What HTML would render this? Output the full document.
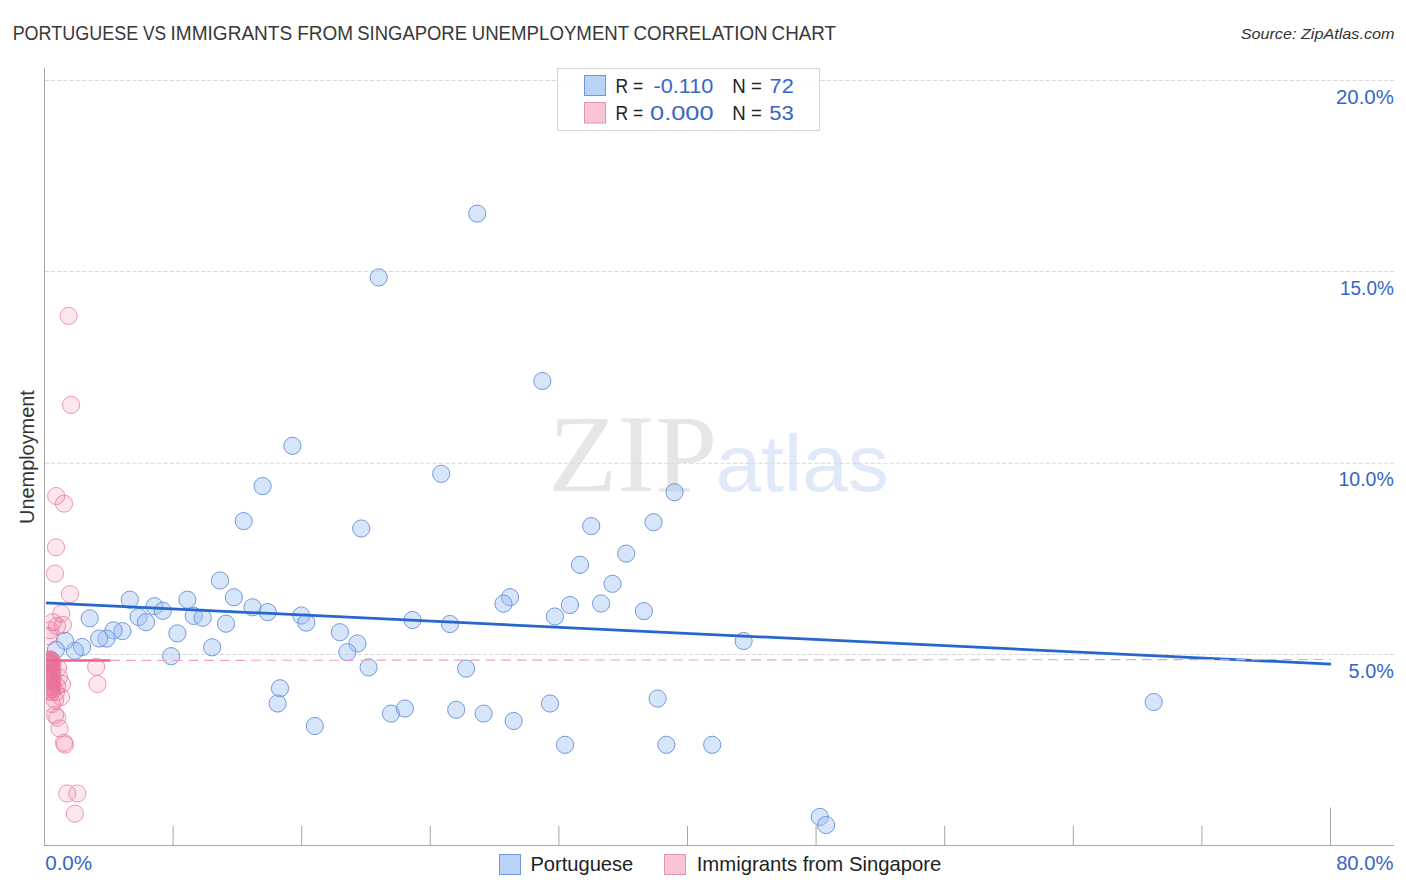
<!DOCTYPE html>
<html><head><meta charset="utf-8"><title>Portuguese vs Immigrants from Singapore Unemployment Correlation Chart</title>
<style>
html,body{margin:0;padding:0;background:#fff;}
body{width:1406px;height:892px;overflow:hidden;}
svg{display:block;}
text{font-family:"Liberation Sans",Arial,sans-serif;}
.grid{stroke:#d9d9d9;stroke-width:1;stroke-dasharray:4.2 2.057;}
.axis{stroke:#a6a6a6;stroke-width:1;}
.ax{fill:#3566c6;font-size:20px;}
.b{fill:#9abdf2;fill-opacity:0.4;stroke:#7299dc;stroke-width:1;}
.p{fill:#ec6898;fill-opacity:0.16;stroke:#e8779f;stroke-width:1.0;stroke-opacity:0.75;}
</style></head>
<body>
<svg width="1406" height="892" viewBox="0 0 1406 892">
<defs><clipPath id="plot"><rect x="46" y="60" width="1360" height="785"/></clipPath></defs>
<text y="39.8" font-size="19.84" fill="#383838"><tspan x="12.63" textLength="125.55" lengthAdjust="spacingAndGlyphs">PORTUGUESE</tspan> <tspan x="143.03" textLength="23.06" lengthAdjust="spacingAndGlyphs">VS</tspan> <tspan x="170.55" textLength="121.62" lengthAdjust="spacingAndGlyphs">IMMIGRANTS</tspan> <tspan x="297.24" textLength="55.91" lengthAdjust="spacingAndGlyphs">FROM</tspan> <tspan x="357.27" textLength="109.72" lengthAdjust="spacingAndGlyphs">SINGAPORE</tspan> <tspan x="471.67" textLength="157.25" lengthAdjust="spacingAndGlyphs">UNEMPLOYMENT</tspan> <tspan x="633.54" textLength="133.97" lengthAdjust="spacingAndGlyphs">CORRELATION</tspan> <tspan x="771.54" textLength="64.5" lengthAdjust="spacingAndGlyphs">CHART</tspan></text>
<text x="1240.65" y="39" font-size="15.47" fill="#333" font-style="italic" textLength="153.91" lengthAdjust="spacingAndGlyphs">Source: ZipAtlas.com</text>
<text transform="translate(33.9,523.9) rotate(-90)" font-size="20.06" fill="#333" textLength="133.7" lengthAdjust="spacingAndGlyphs">Unemployment</text>
<!-- watermark -->
<text x="548.6" y="491" font-size="109.47" fill="#e6e6e6" textLength="168.7" lengthAdjust="spacingAndGlyphs" style="font-family:'Liberation Serif',serif">ZIP</text>
<text x="715.76" y="491" font-size="79.59" fill="#e0e9f7" textLength="172.81" lengthAdjust="spacingAndGlyphs">atlas</text>
<line class="grid" x1="44.68" y1="80.5" x2="1394" y2="80.5"/>
<line class="grid" x1="44.68" y1="271.5" x2="1394" y2="271.5"/>
<line class="grid" x1="44.68" y1="463.3" x2="1394" y2="463.3"/>
<line class="grid" x1="44.68" y1="654.5" x2="1394" y2="654.5"/>
<line class="axis" x1="44.5" y1="67.6" x2="44.5" y2="846"/>
<line class="axis" x1="44" y1="845.5" x2="1394" y2="845.5"/>
<line class="axis" x1="173.1" y1="826" x2="173.1" y2="845"/>
<line class="axis" x1="301.7" y1="826" x2="301.7" y2="845"/>
<line class="axis" x1="430.3" y1="826" x2="430.3" y2="845"/>
<line class="axis" x1="558.9" y1="826" x2="558.9" y2="845"/>
<line class="axis" x1="687.5" y1="826" x2="687.5" y2="845"/>
<line class="axis" x1="816.1" y1="826" x2="816.1" y2="845"/>
<line class="axis" x1="944.7" y1="826" x2="944.7" y2="845"/>
<line class="axis" x1="1073.3" y1="826" x2="1073.3" y2="845"/>
<line class="axis" x1="1201.9" y1="826" x2="1201.9" y2="845"/>
<line class="axis" x1="1330.5" y1="807.5" x2="1330.5" y2="845"/>
<text class="ax" x="1335.98" y="104.0" textLength="57.84" lengthAdjust="spacingAndGlyphs">20.0%</text>
<text class="ax" x="1340.06" y="295.0" textLength="53.71" lengthAdjust="spacingAndGlyphs">15.0%</text>
<text class="ax" x="1338.52" y="486.0" textLength="55.27" lengthAdjust="spacingAndGlyphs">10.0%</text>
<text class="ax" x="1348.61" y="677.8" textLength="45.19" lengthAdjust="spacingAndGlyphs">5.0%</text>
<text class="ax" x="45.2" y="869.8" textLength="46.93" lengthAdjust="spacingAndGlyphs">0.0%</text>
<text class="ax" x="1336.13" y="869.7" textLength="57.28" lengthAdjust="spacingAndGlyphs">80.0%</text>
<g clip-path="url(#plot)">
<circle class="b" cx="292.4" cy="445.8" r="8.6"/>
<circle class="b" cx="262.6" cy="486.1" r="8.6"/>
<circle class="b" cx="243.7" cy="521.1" r="8.6"/>
<circle class="b" cx="361.2" cy="528.5" r="8.6"/>
<circle class="b" cx="220.0" cy="580.5" r="8.6"/>
<circle class="b" cx="129.8" cy="599.7" r="8.6"/>
<circle class="b" cx="187.4" cy="599.7" r="8.6"/>
<circle class="b" cx="233.9" cy="597.3" r="8.6"/>
<circle class="b" cx="154.5" cy="606.2" r="8.6"/>
<circle class="b" cx="162.8" cy="610.8" r="8.6"/>
<circle class="b" cx="252.5" cy="607.3" r="8.6"/>
<circle class="b" cx="267.7" cy="612.1" r="8.6"/>
<circle class="b" cx="301.3" cy="615.5" r="8.6"/>
<circle class="b" cx="306.3" cy="622.6" r="8.6"/>
<circle class="b" cx="138.6" cy="617.0" r="8.6"/>
<circle class="b" cx="146.0" cy="622.2" r="8.6"/>
<circle class="b" cx="193.7" cy="615.9" r="8.6"/>
<circle class="b" cx="202.7" cy="617.7" r="8.6"/>
<circle class="b" cx="226.0" cy="623.7" r="8.6"/>
<circle class="b" cx="122.4" cy="631.1" r="8.6"/>
<circle class="b" cx="113.5" cy="630.4" r="8.6"/>
<circle class="b" cx="106.5" cy="638.6" r="8.6"/>
<circle class="b" cx="99.2" cy="638.5" r="8.6"/>
<circle class="b" cx="177.4" cy="633.4" r="8.6"/>
<circle class="b" cx="212.1" cy="647.3" r="8.6"/>
<circle class="b" cx="171.1" cy="656.2" r="8.6"/>
<circle class="b" cx="339.9" cy="632.2" r="8.6"/>
<circle class="b" cx="357.4" cy="643.5" r="8.6"/>
<circle class="b" cx="347.3" cy="652.2" r="8.6"/>
<circle class="b" cx="368.6" cy="667.4" r="8.6"/>
<circle class="b" cx="280.0" cy="688.3" r="8.6"/>
<circle class="b" cx="277.6" cy="703.5" r="8.6"/>
<circle class="b" cx="314.8" cy="726.0" r="8.6"/>
<circle class="b" cx="391.0" cy="713.6" r="8.6"/>
<circle class="b" cx="441.2" cy="473.8" r="8.6"/>
<circle class="b" cx="674.5" cy="492.2" r="8.6"/>
<circle class="b" cx="591.2" cy="526.1" r="8.6"/>
<circle class="b" cx="653.5" cy="522.2" r="8.6"/>
<circle class="b" cx="626.2" cy="553.6" r="8.6"/>
<circle class="b" cx="580.0" cy="564.8" r="8.6"/>
<circle class="b" cx="612.5" cy="583.8" r="8.6"/>
<circle class="b" cx="510.0" cy="597.2" r="8.6"/>
<circle class="b" cx="503.5" cy="603.7" r="8.6"/>
<circle class="b" cx="569.9" cy="605.0" r="8.6"/>
<circle class="b" cx="601.1" cy="603.5" r="8.6"/>
<circle class="b" cx="643.9" cy="611.1" r="8.6"/>
<circle class="b" cx="554.9" cy="616.5" r="8.6"/>
<circle class="b" cx="412.5" cy="620.0" r="8.6"/>
<circle class="b" cx="450.0" cy="624.0" r="8.6"/>
<circle class="b" cx="466.1" cy="668.6" r="8.6"/>
<circle class="b" cx="404.9" cy="708.5" r="8.6"/>
<circle class="b" cx="456.2" cy="709.8" r="8.6"/>
<circle class="b" cx="483.6" cy="713.6" r="8.6"/>
<circle class="b" cx="513.6" cy="721.0" r="8.6"/>
<circle class="b" cx="550.0" cy="703.5" r="8.6"/>
<circle class="b" cx="657.6" cy="698.6" r="8.6"/>
<circle class="b" cx="565.0" cy="744.8" r="8.6"/>
<circle class="b" cx="666.3" cy="744.8" r="8.6"/>
<circle class="b" cx="712.2" cy="744.8" r="8.6"/>
<circle class="b" cx="743.6" cy="641.0" r="8.6"/>
<circle class="b" cx="1153.7" cy="702.0" r="8.6"/>
<circle class="b" cx="819.8" cy="816.9" r="8.6"/>
<circle class="b" cx="826.1" cy="825.0" r="8.6"/>
<circle class="b" cx="477.2" cy="213.6" r="8.6"/>
<circle class="b" cx="378.7" cy="277.4" r="8.6"/>
<circle class="b" cx="542.3" cy="381.0" r="8.6"/>
<circle class="b" cx="89.7" cy="618.3" r="8.6"/>
<circle class="b" cx="82.1" cy="647.0" r="8.6"/>
<circle class="b" cx="74.9" cy="650.8" r="8.6"/>
<circle class="b" cx="65.1" cy="640.9" r="8.6"/>
<circle class="b" cx="55.9" cy="649.7" r="8.6"/>
<circle class="p" cx="68.6" cy="315.9" r="8.6"/>
<circle class="p" cx="71.1" cy="404.9" r="8.6"/>
<circle class="p" cx="56.2" cy="496.0" r="8.6"/>
<circle class="p" cx="64.0" cy="503.6" r="8.6"/>
<circle class="p" cx="56.0" cy="547.3" r="8.6"/>
<circle class="p" cx="55.0" cy="573.6" r="8.6"/>
<circle class="p" cx="70.0" cy="594.2" r="8.6"/>
<circle class="p" cx="61.2" cy="613.6" r="8.6"/>
<circle class="p" cx="52.8" cy="622.2" r="8.6"/>
<circle class="p" cx="62.9" cy="624.9" r="8.6"/>
<circle class="p" cx="50.1" cy="630.2" r="8.6"/>
<circle class="p" cx="48.8" cy="636.3" r="8.6"/>
<circle class="p" cx="57.0" cy="626.0" r="8.6"/>
<circle class="p" cx="96.2" cy="666.9" r="8.6"/>
<circle class="p" cx="97.4" cy="684.0" r="8.6"/>
<circle class="p" cx="55.1" cy="715.0" r="8.6"/>
<circle class="p" cx="57.3" cy="717.7" r="8.6"/>
<circle class="p" cx="59.5" cy="728.5" r="8.6"/>
<circle class="p" cx="64.0" cy="742.8" r="8.6"/>
<circle class="p" cx="64.9" cy="744.6" r="8.6"/>
<circle class="p" cx="67.2" cy="793.5" r="8.6"/>
<circle class="p" cx="77.3" cy="793.5" r="8.6"/>
<circle class="p" cx="74.9" cy="813.7" r="8.6"/>
<circle class="p" cx="50.5" cy="659.5" r="8.6"/>
<circle class="p" cx="51.5" cy="660.5" r="8.6"/>
<circle class="p" cx="49.5" cy="661.2" r="8.6"/>
<circle class="p" cx="52.0" cy="662.0" r="8.6"/>
<circle class="p" cx="50.0" cy="664.0" r="8.6"/>
<circle class="p" cx="49.5" cy="659.5" r="8.6"/>
<circle class="p" cx="51.5" cy="661.0" r="8.6"/>
<circle class="p" cx="50.5" cy="662.6" r="8.6"/>
<circle class="p" cx="52.5" cy="664.1" r="8.6"/>
<circle class="p" cx="49.5" cy="665.7" r="8.6"/>
<circle class="p" cx="51.5" cy="667.2" r="8.6"/>
<circle class="p" cx="50.5" cy="668.8" r="8.6"/>
<circle class="p" cx="52.5" cy="670.4" r="8.6"/>
<circle class="p" cx="49.5" cy="671.9" r="8.6"/>
<circle class="p" cx="51.5" cy="673.5" r="8.6"/>
<circle class="p" cx="50.5" cy="675.0" r="8.6"/>
<circle class="p" cx="52.5" cy="676.5" r="8.6"/>
<circle class="p" cx="49.5" cy="678.1" r="8.6"/>
<circle class="p" cx="51.5" cy="679.6" r="8.6"/>
<circle class="p" cx="50.5" cy="681.2" r="8.6"/>
<circle class="p" cx="52.5" cy="682.8" r="8.6"/>
<circle class="p" cx="49.5" cy="684.3" r="8.6"/>
<circle class="p" cx="51.5" cy="685.9" r="8.6"/>
<circle class="p" cx="50.5" cy="687.4" r="8.6"/>
<circle class="p" cx="52.5" cy="689.0" r="8.6"/>
<circle class="p" cx="49.5" cy="690.5" r="8.6"/>
<circle class="p" cx="51.5" cy="692.0" r="8.6"/>
<circle class="p" cx="58.0" cy="668.0" r="8.6"/>
<circle class="p" cx="59.0" cy="677.0" r="8.6"/>
<circle class="p" cx="57.0" cy="686.0" r="8.6"/>
<circle class="p" cx="56.0" cy="692.0" r="8.6"/>
<circle class="p" cx="62.0" cy="684.0" r="8.6"/>
<circle class="p" cx="55.0" cy="700.0" r="8.6"/>
<circle class="p" cx="52.0" cy="704.0" r="8.6"/>
<circle class="p" cx="61.0" cy="697.0" r="8.6"/>
<line x1="44" y1="602.7" x2="1331" y2="664.1" stroke="#2767cc" stroke-width="2.7"/>
<line x1="44" y1="660.5" x2="110.4" y2="660.5" stroke="#e8648f" stroke-width="2.4"/>
<line x1="110.4" y1="660.4" x2="1331" y2="659.5" stroke="#eea2bd" stroke-width="1.15" stroke-dasharray="9.6 6.03"/>
</g>
<!-- top legend -->
<rect x="557.5" y="68.5" width="262" height="62" fill="#fff" fill-opacity="0.88" stroke="#d4d4d4" stroke-width="1"/>
<rect x="584.5" y="75.5" width="21" height="20" fill="#b8d3f7" stroke="#7295d6" stroke-width="1"/>
<rect x="584.5" y="102.5" width="21" height="20.5" fill="#f9c4d7" stroke="#e494b2" stroke-width="1"/>
<text x="615.47" y="93" font-size="20" fill="#222" textLength="27.58" lengthAdjust="spacingAndGlyphs">R =</text>
<text x="653.45" y="93" font-size="20" fill="#3566c6" textLength="59.91" lengthAdjust="spacingAndGlyphs">-0.110</text>
<text x="732.37" y="93" font-size="20" fill="#222" textLength="29.54" lengthAdjust="spacingAndGlyphs">N =</text>
<text x="769.6" y="93" font-size="20" fill="#3566c6" textLength="24.09" lengthAdjust="spacingAndGlyphs">72</text>
<text x="615.47" y="119.7" font-size="20" fill="#222" textLength="27.58" lengthAdjust="spacingAndGlyphs">R =</text>
<text x="650.11" y="119.7" font-size="20" fill="#3566c6" textLength="63.39" lengthAdjust="spacingAndGlyphs">0.000</text>
<text x="732.37" y="119.7" font-size="20" fill="#222" textLength="29.54" lengthAdjust="spacingAndGlyphs">N =</text>
<text x="769.32" y="119.7" font-size="20" fill="#3566c6" textLength="24.56" lengthAdjust="spacingAndGlyphs">53</text>
<!-- bottom legend -->
<rect x="499.5" y="854.5" width="21" height="20" fill="#b8d3f7" stroke="#7295d6" stroke-width="1"/>
<text x="530.45" y="870.9" font-size="20.64" fill="#222" textLength="102.83" lengthAdjust="spacingAndGlyphs">Portuguese</text>
<rect x="664.5" y="854.5" width="21" height="20" fill="#f9c4d7" stroke="#e494b2" stroke-width="1"/>
<text x="696.7" y="870.9" font-size="20.64" fill="#222" textLength="244.7" lengthAdjust="spacingAndGlyphs">Immigrants from Singapore</text>
</svg>
</body></html>
